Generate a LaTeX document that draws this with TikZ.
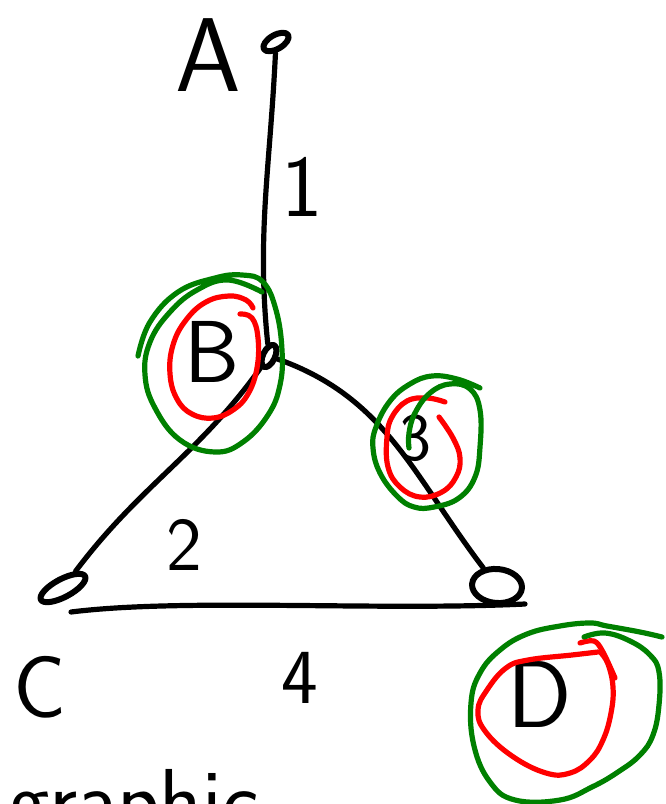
\documentclass[tikz,border=0pt]{standalone}
\usetikzlibrary{shapes.geometric,calc}
\definecolor{hred}{RGB}{255,0,0}
\definecolor{hgreen}{RGB}{0,128,0}
\begin{document}
\begin{tikzpicture}[x=1pt,y=-1pt,
  ink/.style={line width=5.2pt,line cap=round,line join=round},
  vtx/.style={ink,line width=6pt,draw,ellipse,inner sep=0pt},
  lbl/.style={font=\fontsize{#1}{#1}\selectfont\sffamily,inner sep=0pt},
  redring/.style={ink,draw=hred},
  greenring/.style={ink,draw=hgreen}]
\useasboundingbox (0,0) rectangle (666,804);
\clip (0,0) rectangle (666,804);
% vertices
\node[vtx,minimum width=28pt,minimum height=14pt,rotate=30] (A) at (276,42) {};
\node[vtx,minimum width=24pt,minimum height=12pt,rotate=65] (B) at (269,356) {};
\node[vtx,minimum width=50pt,minimum height=18pt,rotate=28] (C) at (63,588) {};
\node[vtx,minimum width=50pt,minimum height=34pt,rotate=-5] (D) at (497,586) {};
% edges
\draw[ink] (A) to[out=-95,in=92] (B);
\draw[ink] (B) to[out=-130,in=50] (C);
\draw[ink] (B) to[out=-25,in=128] (D);
\draw[ink] ($(C)+(8,24)$) .. controls ($(C)+(120,10)$) and ($(D)+(-120,25)$) .. ($(D)+(28,18)$);
% labels
\node[lbl=105] (lA) at (208,55) {A};
\node[lbl=88] (l1) at (302,187) {1};
\node[lbl=88] (lB) at (212,352) {B};
\node[lbl=68] (l3) at (415,438) {3};
\node[lbl=76] (l2) at (184,545) {2};
\node[lbl=88] (lC) at (40,687) {C};
\node[lbl=78] (l4) at (300,678) {4};
\node[lbl=95] (lD) at (540,695) {D};
\node[lbl=88,anchor=base west] (word) at (8,830) {graphic};
% rings around B
\draw[redring] plot[smooth,tension=0.7] coordinates {(240,314) (252,318) (258,338) (257,368) (248,394) (233,410) (213,418) (192,414) (177,399) (170,374) (173,345) (186,320) (206,302) (229,296) (246,300) (253,308)};
\draw[greenring] plot[smooth,tension=0.7] coordinates {(138,356) (150,322) (178,292) (215,278) (242,275) (263,282) (276,310) (282,350) (280,385) (268,415) (243,442) (215,452) (180,440) (155,408) (145,375) (150,342) (170,312) (197,290) (228,280) (262,292)};
% rings around 3
\draw[redring] plot[smooth,tension=0.7] coordinates {(445,402) (427,398) (407,401) (392,417) (387,437) (388,467) (400,487) (420,497) (442,492) (456,477) (460,458) (453,438) (439,417)};
\draw[greenring] plot[smooth,tension=0.7] coordinates {(480,388) (457,379) (432,376) (410,384) (390,401) (376,427) (373,448) (380,473) (397,496) (414,507) (434,507) (459,498) (475,477) (480,447) (480,410) (470,389) (450,384) (430,393) (415,413) (409,433) (409,448)};
% rings around D
\draw[redring] plot[smooth,tension=0.6] coordinates {(580,643) (594,641) (603,652) (615,678)};
\draw[redring] plot[smooth,tension=0.7] coordinates {(598,652) (572,655) (528,660) (506,668) (487,690) (478,710) (485,731) (512,756) (546,773) (570,773) (590,760) (603,740) (611,713) (613,687) (608,664) (601,653)};
\draw[greenring] plot[smooth,tension=0.7] coordinates {(662,637) (640,632) (607,626) (590,623) (560,626) (527,634) (500,650) (480,673) (471,703) (474,746) (490,782) (515,800) (560,800) (592,787) (618,772) (640,755) (653,735) (659,705) (659,672) (650,655) (630,641) (605,633) (584,637)};
\end{tikzpicture}
\end{document}
